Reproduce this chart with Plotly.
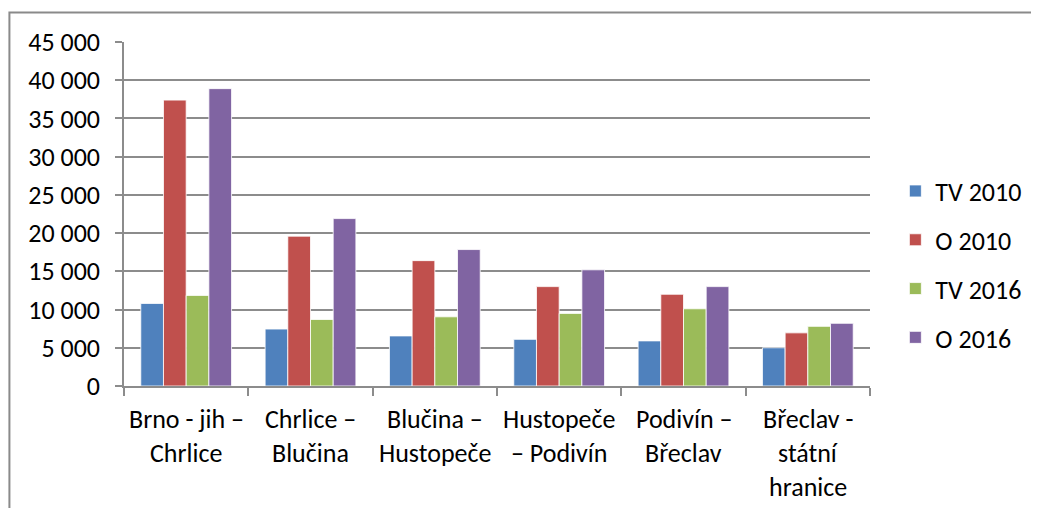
import plotly.graph_objects as go

sections = [
    "Brno - jih – Chrlice",
    "Chrlice – Blučina",
    "Blučina – Hustopeče",
    "Hustopeče – Podivín",
    "Podivín – Břeclav",
    "Břeclav - státní hranice",
]
section_lines = [
    ["Brno - jih –", "Chrlice"],
    ["Chrlice –", "Blučina"],
    ["Blučina –", "Hustopeče"],
    ["Hustopeče", "– Podivín"],
    ["Podivín –", "Břeclav"],
    ["Břeclav -", "státní", "hranice"],
]

tv_2010 = [10800, 7450, 6550, 6100, 5900, 5000]
o_2010 = [37400, 19600, 16400, 13000, 12000, 6950]
tv_2016 = [11850, 8700, 9050, 9500, 10100, 7800]
o_2016 = [38900, 21900, 17850, 15200, 13000, 8200]

series = [
    ("TV 2010", tv_2010, "#4f81bd"),
    ("O 2010", o_2010, "#c0504d"),
    ("TV 2016", tv_2016, "#9bbb59"),
    ("O 2016", o_2016, "#8064a2"),
]

FONT = "Carlito, Lato, Calibri, sans-serif"
GRID = "#8c8c8c"

fig = go.Figure()
for name, vals, color in series:
    fig.add_trace(
        go.Bar(
            x=sections,
            y=vals,
            name=name,
            legendgroup=name,
            marker=dict(color=color, line=dict(color="white", width=0.8)),
        )
    )

# multi-line category labels, spaced like the original
for sec, lines in zip(sections, section_lines):
    for k, line in enumerate(lines):
        fig.add_annotation(
            x=sec,
            y=0,
            xref="x",
            yref="y",
            text=line,
            showarrow=False,
            yanchor="middle",
            yshift=-33 - k * 34,
            font=dict(size=26, color="black", family=FONT),
        )

# outer chart frame (only top and left edges are visible)
fig.add_shape(
    type="rect",
    xref="paper",
    yref="paper",
    x0=-0.1536,
    x1=1.3,
    y0=-0.6,
    y1=1.086,
    line=dict(color="#8a8a8a", width=2),
    layer="below",
)

# the page adds an 8px body margin, so the figure is 8px smaller
fig.update_layout(
    width=1031,
    height=500,
    margin=dict(l=116, r=166, t=34, b=122),
    paper_bgcolor="white",
    plot_bgcolor="white",
    barmode="group",
    bargap=0.27,
    bargroupgap=0,
    separators=", ",
    font=dict(family=FONT, size=26, color="black"),
    legend=dict(
        x=1.034,
        y=0.353,
        xanchor="left",
        yanchor="middle",
        traceorder="grouped",
        tracegroupgap=12,
        font=dict(size=26, family=FONT),
        itemwidth=30,
    ),
)
fig.update_xaxes(
    type="category",
    showticklabels=False,
    showgrid=False,
    showline=True,
    linecolor=GRID,
    linewidth=1.5,
    ticks="outside",
    tickson="boundaries",
    ticklen=8,
    tickcolor=GRID,
    tickwidth=1.5,
)
fig.update_yaxes(
    range=[0, 45000],
    dtick=5000,
    tickformat=",d",
    showgrid=True,
    gridcolor=GRID,
    gridwidth=1.5,
    showline=True,
    linecolor=GRID,
    linewidth=1.5,
    ticks="outside",
    ticklen=7,
    tickcolor=GRID,
    tickwidth=1.5,
    ticklabelstandoff=10,
    zeroline=False,
    tickfont=dict(size=26, family=FONT),
)

fig.write_html("out.html")
